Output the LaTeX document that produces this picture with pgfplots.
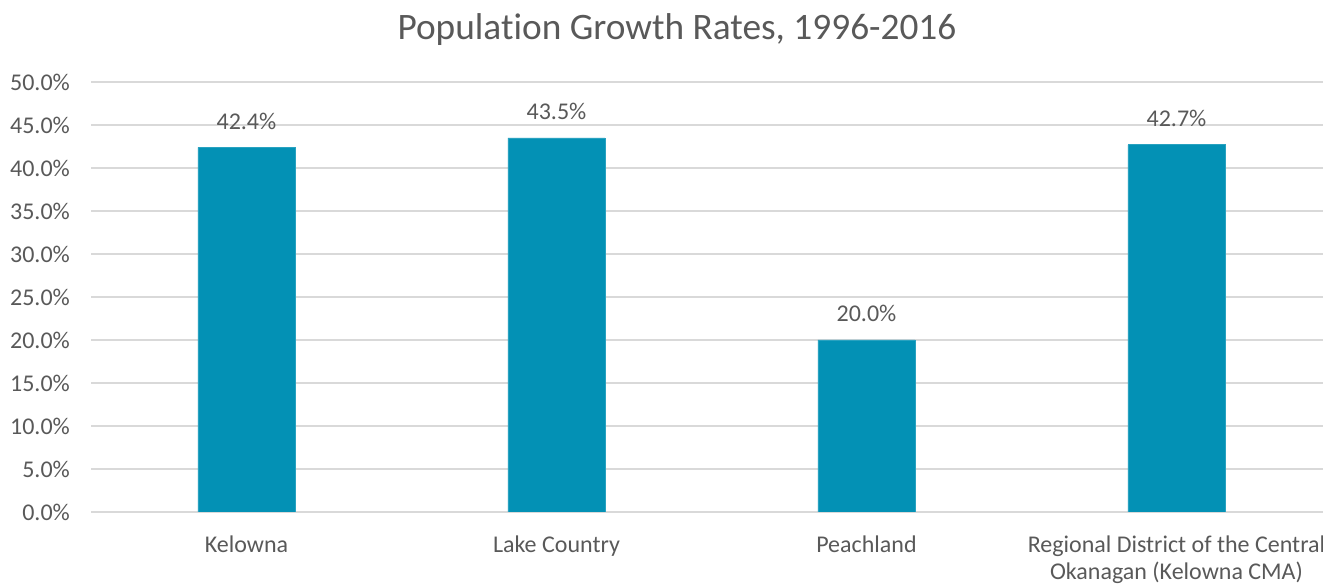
\documentclass[border=0pt]{standalone}
\usepackage{fontspec}
\setmainfont{Carlito}[Ligatures=CommonOff]
\usepackage{pgfplots}
\pgfplotsset{compat=1.18}
\definecolor{barblue}{HTML}{0391B5}
\definecolor{txtgray}{HTML}{595959}
\definecolor{gridgray}{HTML}{D9D9D9}

\begin{document}
\begin{tikzpicture}
\begin{axis}[
    name=ax, at={(0,0)}, anchor=south west,
    scale only axis, width=930pt, height=322.5pt,
    xmin=-0.5, xmax=3.5, ymin=0, ymax=50,
    ybar, bar width=72.75pt,
    xtick=data,
    xticklabels={Kelowna, Lake Country, Peachland,
        {Regional District of the Central\\Okanagan (Kelowna CMA)}},
    ytick={0,5,...,50},
    ymajorgrids, major grid style={gridgray, line width=1.1pt},
    axis line style={draw=none}, tick style={draw=none},
    /pgf/number format/assume math mode=true,
    yticklabel={\pgfmathprintnumber[fixed,fixed zerofill,precision=1]{\tick}\%},
    yticklabel style={font=\fontsize{18}{21}\selectfont, text=txtgray, inner sep=0pt},
    yticklabel shift=16pt,
    xticklabel style={font=\fontsize{18}{20.25}\selectfont, text=txtgray,
        inner sep=0pt, align=center},
    xticklabel shift=13.5pt,
    nodes near coords={\pgfmathprintnumber[fixed,fixed zerofill,precision=1]{\pgfplotspointmeta}\%},
    nodes near coords style={font=\fontsize{18}{21}\selectfont, text=txtgray,
        anchor=base, inner sep=0pt, yshift=13.5pt},
]
\addplot[fill=barblue, draw=barblue!85!white, line width=0.5pt] coordinates {
    (0,42.4) (1,43.5) (2,20.0) (3,42.7)};
\end{axis}
\node[anchor=base, font=\fontsize{28}{33}\selectfont, text=txtgray]
    at ([xshift=439.1pt, yshift=354pt]ax.south west) {Population Growth Rates, 1996-2016};
\pgfresetboundingbox
\path ([shift={(-68.6pt,-54pt)}]ax.south west) rectangle ++(992.25pt,438pt);
\end{tikzpicture}
\end{document}
